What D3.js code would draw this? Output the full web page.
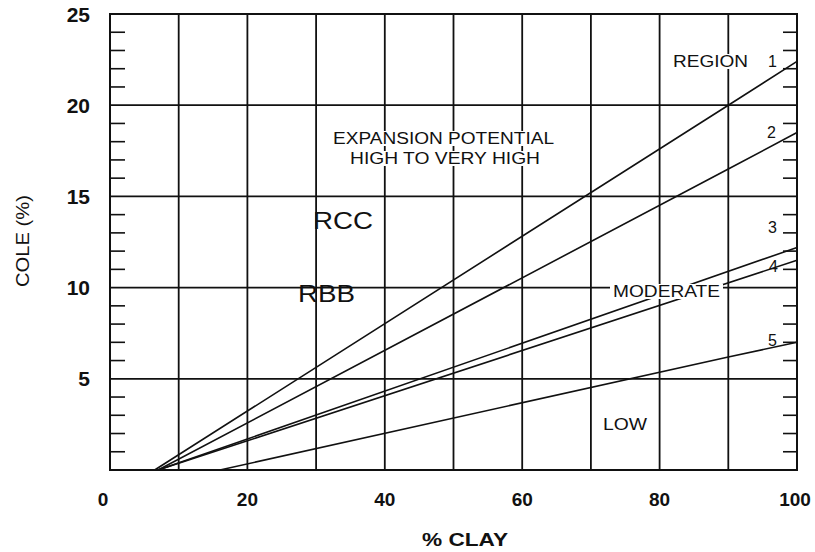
<!DOCTYPE html>
<html>
<head>
<meta charset="utf-8">
<script src="https://cdn.jsdelivr.net/npm/d3@7"></script>
<style>
  body { margin: 0; background: #fff; }
  svg { display: block; font-family: "Liberation Sans", Arial, sans-serif; }
</style>
</head>
<body>
<svg width="815" height="552"></svg>
<script>
// region lines: [clay %, COLE %]
const regionNames = ["1", "2", "3", "4", "5"];
const region1 = [[6.5, 0], [90, 20], [100, 22.4]];
const region2 = [[7, 0], [90, 16.5], [100, 18.5]];
const region3 = [[7, 0], [20, 1.7], [100, 12.2]];
const region4 = [[7, 0], [20, 1.6], [100, 11.5]];
const region5 = [[16, 0], [90, 6.2], [100, 7.0]];
const regions = [region1, region2, region3, region4, region5];
const xTicks = [0, 20, 40, 60, 80, 100];
const yTicks = [5, 10, 15, 20, 25];

const svg = d3.select("svg");
const mLeft = 110, mRight = 797, mTop = 14, mBottom = 470;

const x = d3.scaleLinear().domain([0, 100]).range([mLeft, mRight]);
const y = d3.scaleLinear().domain([0, 25]).range([mBottom, mTop]);

// grid
const grid = svg.append("g").attr("stroke", "#111").attr("stroke-width", 1.8);
grid.selectAll(".vg").data(d3.range(10, 100, 10)).enter().append("line")
  .attr("x1", d => x(d)).attr("x2", d => x(d))
  .attr("y1", mTop).attr("y2", mBottom);
grid.selectAll(".hg").data([5, 10, 15, 20]).enter().append("line")
  .attr("x1", mLeft).attr("x2", mRight)
  .attr("y1", d => y(d)).attr("y2", d => y(d));

// minor ticks inside the frame, left and right
const minor = d3.range(1, 25).filter(d => d % 5 !== 0);
const ticks = svg.append("g").attr("stroke", "#111").attr("stroke-width", 1.6);
ticks.selectAll(".lt").data(minor).enter().append("line")
  .attr("x1", mLeft).attr("x2", mLeft + 15)
  .attr("y1", d => y(d)).attr("y2", d => y(d));
ticks.selectAll(".rt").data(minor).enter().append("line")
  .attr("x1", mRight - 14).attr("x2", mRight)
  .attr("y1", d => y(d)).attr("y2", d => y(d));

// region lines
const line = d3.line().x(d => x(d[0])).y(d => y(d[1]));
svg.append("g").selectAll("path").data(regions).enter().append("path")
  .attr("d", line).attr("fill", "none")
  .attr("stroke", "#111").attr("stroke-width", 1.6);

// frame
svg.append("rect").attr("x", mLeft).attr("y", mTop)
  .attr("width", mRight - mLeft).attr("height", mBottom - mTop)
  .attr("fill", "none").attr("stroke", "#111").attr("stroke-width", 2);

// text (start x, baseline), stretched to the scan's wide lettering, optional white knock-out
function label(txt, sx, by, size, len, knock) {
  const t = svg.append("text").attr("x", sx).attr("y", by)
    .attr("font-size", size).attr("fill", "#111").text(txt);
  if (len) t.attr("textLength", len).attr("lengthAdjust", "spacingAndGlyphs");
  if (knock) {
    const b = t.node().getBBox();
    svg.insert("rect", () => t.node())
      .attr("x", b.x - 3).attr("y", b.y + 1)
      .attr("width", b.width + 6).attr("height", b.height - 2)
      .attr("fill", "#fff");
  }
  return t;
}

label("EXPANSION POTENTIAL", 333, 144, 16, 221, true);
label("HIGH TO VERY HIGH", 350, 164, 16, 190, true);
label("REGION", 673, 67, 16, 75, true);
label("MODERATE", 613, 297, 16, 107, true);
label("LOW", 603, 430, 16, 44, false);
label("RCC", 313, 229, 24, 60, false);
label("RBB", 298, 302, 24, 57, false);

// region numbers near the right ends
const numX = [768, 767, 768, 769, 768];
const numY = [67, 138, 233, 272, 346];
regionNames.forEach((n, i) => label(n, numX[i], numY[i], 16, null, false));

// axis tick labels
svg.selectAll(".yl").data(yTicks).enter().append("text")
  .attr("x", 90).attr("y", d => y(d)).attr("dy", "0.36em")
  .attr("text-anchor", "end").attr("font-size", 21).attr("font-weight", "bold")
  .attr("fill", "#111").text(d => d);
svg.selectAll(".xl").data(xTicks).enter().append("text")
  .attr("x", d => x(d) + (d === 0 ? -7 : d === 100 ? -2 : 0)).attr("y", 499).attr("dy", "0.36em")
  .attr("text-anchor", "middle").attr("font-size", 19).attr("font-weight", "bold")
  .attr("fill", "#111").text(d => d);

// axis titles
svg.append("text").attr("x", 465).attr("y", 546)
  .attr("text-anchor", "middle").attr("font-size", 19).attr("font-weight", "bold")
  .attr("textLength", 86).attr("lengthAdjust", "spacingAndGlyphs")
  .attr("fill", "#111").text("% CLAY");
svg.append("text").attr("transform", "translate(29,241) rotate(-90)")
  .attr("text-anchor", "middle").attr("font-size", 18)
  .attr("textLength", 92).attr("lengthAdjust", "spacingAndGlyphs")
  .attr("fill", "#111").text("COLE (%)");
</script>
</body>
</html>
